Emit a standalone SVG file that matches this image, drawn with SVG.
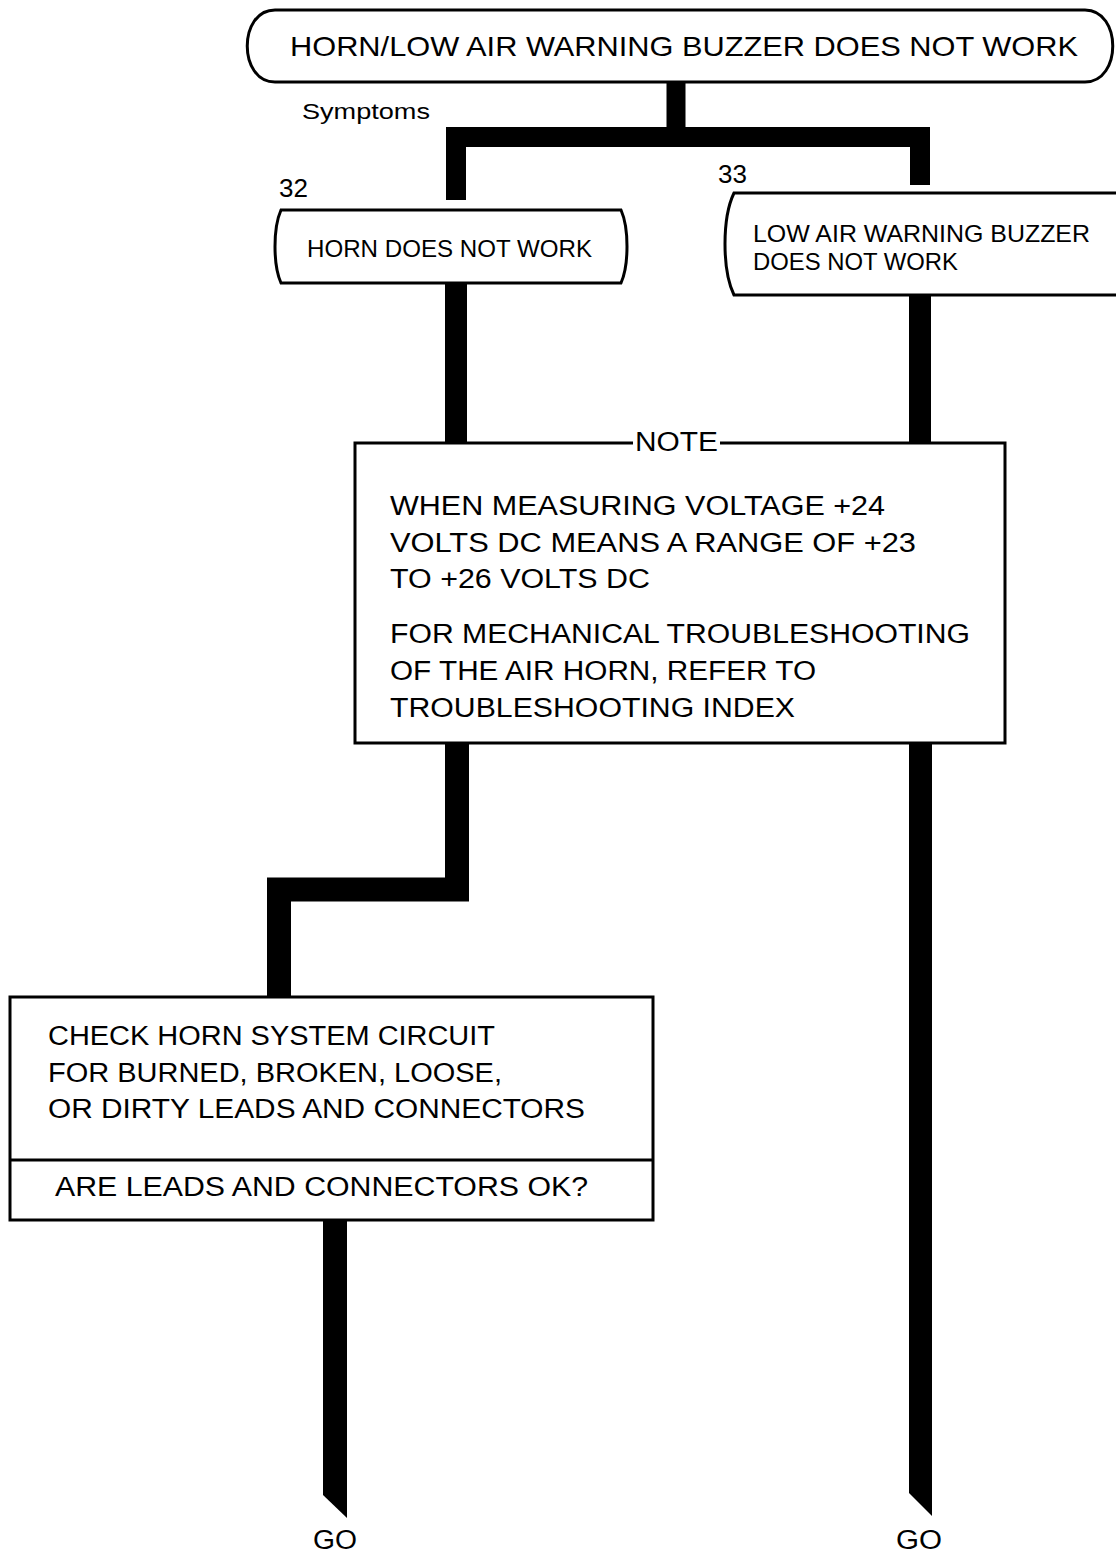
<svg xmlns="http://www.w3.org/2000/svg" width="1116" height="1553" viewBox="0 0 1116 1553">
<style>
.box{fill:#fff;stroke:#000;stroke-width:3}
.line{fill:none;stroke:#000;stroke-width:3}
.bar{fill:none;stroke:#000;stroke-linejoin:miter;stroke-linecap:butt}
.fut{font-family:"Liberation Sans","DejaVu Sans",sans-serif;fill:#000}
.hel{font-family:"Liberation Sans",Arial,sans-serif;fill:#000}
</style>
<rect width="1116" height="1553" fill="#fff"/>
<g id="connectors">
<path class="bar" stroke-width="19" d="M676 82 V137"/>
<path class="bar" stroke-width="20" d="M456 200 V137 H920 V185"/>
<path class="bar" stroke-width="22" d="M456 283 V444"/>
<path class="bar" stroke-width="22" d="M920 295 V444"/>
<path class="bar" stroke-width="24" d="M457 742 V889.5 H279 V998"/>
<polygon points="323,1219 347,1219 347,1518 323,1495" fill="#000"/>
<polygon points="909,742 932,742 932,1516 909,1493" fill="#000"/>
</g>
<g id="title">
<path class="box" stroke-width="3.5" d="M275 10 H1085 C1122 10 1122 82 1085 82 H275 C238 82 238 10 275 10 Z"/>
<text class="fut" x="290" y="56" font-size="28" textLength="788" lengthAdjust="spacingAndGlyphs">HORN/LOW AIR WARNING BUZZER DOES NOT WORK</text>
</g>
<g id="symptoms-label">
<text class="fut" x="302" y="119" font-size="22" textLength="128" lengthAdjust="spacingAndGlyphs">Symptoms</text>
</g>
<g id="node32">
<text class="hel" x="279" y="197" font-size="26">32</text>
<path class="box" d="M281 210 H621 C629 228 629 265 621 283 H281 C273 265 273 228 281 210 Z"/>
<text class="hel" x="307" y="257" font-size="24" textLength="285" lengthAdjust="spacingAndGlyphs">HORN DOES NOT WORK</text>
</g>
<g id="node33">
<text class="hel" x="718" y="183" font-size="26">33</text>
<path class="box" d="M1125 193 H734 C722 218 722 270 734 295 H1125"/>
<text class="hel" x="753" y="242" font-size="24" textLength="337" lengthAdjust="spacingAndGlyphs">LOW AIR WARNING BUZZER</text>
<text class="hel" x="753" y="270" font-size="24" textLength="205" lengthAdjust="spacingAndGlyphs">DOES NOT WORK</text>
</g>
<g id="note">
<path class="box" d="M633 443 H355 V743 H1005 V443 H720"/>
<text class="fut" x="635" y="451" font-size="27" textLength="83" lengthAdjust="spacingAndGlyphs">NOTE</text>
<text class="fut" x="390" y="515" font-size="27" textLength="495" lengthAdjust="spacingAndGlyphs">WHEN MEASURING VOLTAGE +24</text>
<text class="fut" x="390" y="552" font-size="27" textLength="526" lengthAdjust="spacingAndGlyphs">VOLTS DC MEANS A RANGE OF +23</text>
<text class="fut" x="390" y="588" font-size="27" textLength="260" lengthAdjust="spacingAndGlyphs">TO +26 VOLTS DC</text>
<text class="fut" x="390" y="643" font-size="27" textLength="580" lengthAdjust="spacingAndGlyphs">FOR MECHANICAL TROUBLESHOOTING</text>
<text class="fut" x="390" y="680" font-size="27" textLength="426" lengthAdjust="spacingAndGlyphs">OF THE AIR HORN, REFER TO</text>
<text class="fut" x="390" y="717" font-size="27" textLength="405" lengthAdjust="spacingAndGlyphs">TROUBLESHOOTING INDEX</text>
</g>
<g id="check">
<rect class="box" x="10" y="997" width="643" height="223"/>
<line class="line" x1="10" y1="1160" x2="653" y2="1160"/>
<text class="fut" x="48" y="1045" font-size="27" textLength="447" lengthAdjust="spacingAndGlyphs">CHECK HORN SYSTEM CIRCUIT</text>
<text class="fut" x="48" y="1082" font-size="27" textLength="454" lengthAdjust="spacingAndGlyphs">FOR BURNED, BROKEN, LOOSE,</text>
<text class="fut" x="48" y="1118" font-size="27" textLength="537" lengthAdjust="spacingAndGlyphs">OR DIRTY LEADS AND CONNECTORS</text>
<text class="fut" x="55" y="1196" font-size="27" textLength="533" lengthAdjust="spacingAndGlyphs">ARE LEADS AND CONNECTORS OK?</text>
</g>
<g id="go-left">
<text class="fut" x="335" y="1549" font-size="27" text-anchor="middle" textLength="44" lengthAdjust="spacingAndGlyphs">GO</text>
</g>
<g id="go-right">
<text class="fut" x="919" y="1549" font-size="27" text-anchor="middle" textLength="46" lengthAdjust="spacingAndGlyphs">GO</text>
</g>
</svg>
